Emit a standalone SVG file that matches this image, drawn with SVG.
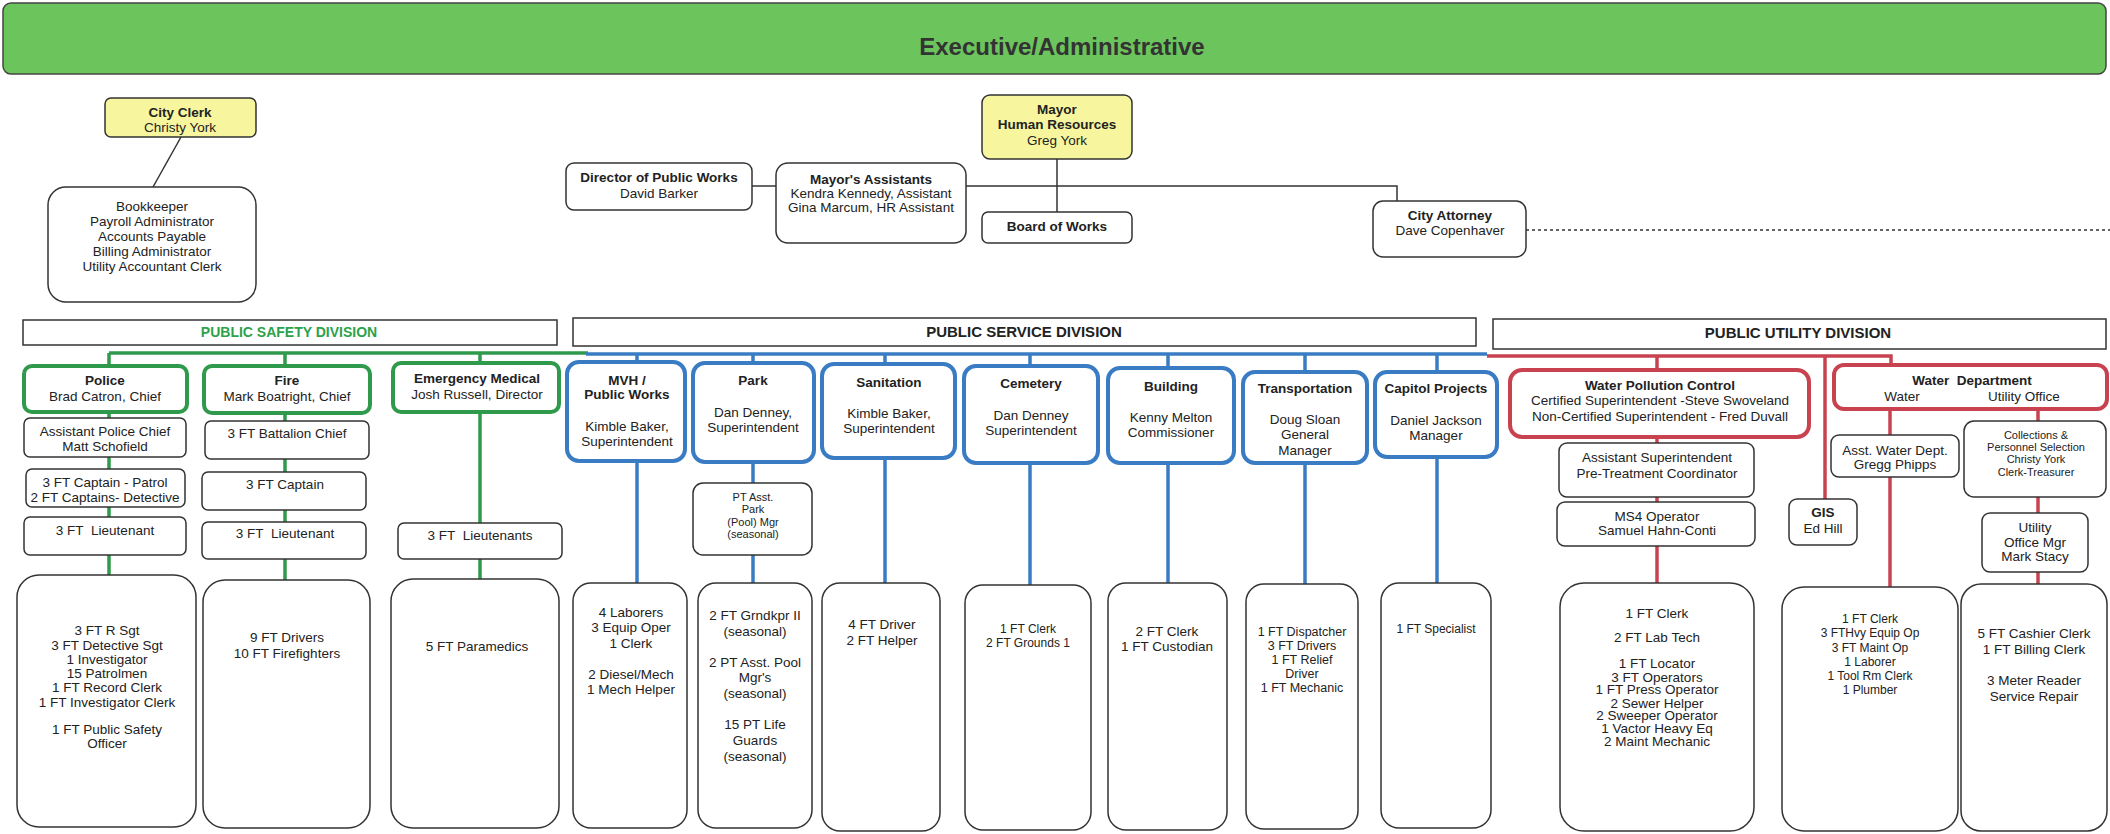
<svg xmlns="http://www.w3.org/2000/svg" width="2110" height="834" viewBox="0 0 2110 834">
<style>
text{font-family:"Liberation Sans",Arial,sans-serif;font-size:13.5px;fill:#222;text-anchor:middle}
.b{font-weight:bold}
.s11{font-size:11px}
.s12{font-size:12px}
.box{fill:#fff;stroke:#333;stroke-width:1.5}
.yel{fill:#f7f69e;stroke:#333;stroke-width:1.5}
.gb{fill:#fff;stroke:#2f9a4c;stroke-width:4}
.bb{fill:#fff;stroke:#3a7cc4;stroke-width:4}
.rb{fill:#fff;stroke:#c8434f;stroke-width:4}
.div{fill:#fff;stroke:#333;stroke-width:1.5}
.lk{stroke:#333;stroke-width:1.5;fill:none}
.lg{stroke:#2f9a4c;stroke-width:3.5;fill:none}
.lb{stroke:#3a7cc4;stroke-width:3.5;fill:none}
.lr{stroke:#c8434f;stroke-width:3.5;fill:none}
.dash{stroke:#333;stroke-width:1.5;stroke-dasharray:3 3;fill:none}
</style>

<g id="header">
<rect x="3" y="3" width="2103" height="71" rx="8" fill="#6cc55c" stroke="#444" stroke-width="1.5"/>
<text x="1062" y="55" class="b" style="font-size:24px;fill:#333">Executive/Administrative</text>
</g>

<g id="connectors">
<line class="lk" x1="181" y1="137" x2="153" y2="187"/>
<line class="lk" x1="752" y1="186" x2="776" y2="186"/>
<polyline class="lk" points="966,186 1397,186 1397,201"/>
<line class="lk" x1="1057" y1="159" x2="1057" y2="212"/>
<line class="dash" x1="1526" y1="230" x2="2110" y2="230"/>
<!-- public safety -->
<line class="lg" x1="109" y1="353" x2="588" y2="353"/>
<line class="lg" x1="109" y1="353" x2="109" y2="575"/>
<line class="lg" x1="285" y1="353" x2="285" y2="580"/>
<line class="lg" x1="480" y1="353" x2="480" y2="579"/>
<!-- public service -->
<line class="lb" x1="586" y1="354" x2="1487" y2="354"/>
<line class="lb" x1="637" y1="354" x2="637" y2="583"/>
<line class="lb" x1="753" y1="354" x2="753" y2="583"/>
<line class="lb" x1="885" y1="354" x2="885" y2="583"/>
<line class="lb" x1="1030" y1="354" x2="1030" y2="585"/>
<line class="lb" x1="1168" y1="354" x2="1168" y2="583"/>
<line class="lb" x1="1305" y1="354" x2="1305" y2="584"/>
<line class="lb" x1="1437" y1="354" x2="1437" y2="583"/>
<!-- public utility -->
<polyline class="lr" points="1487,356 1891,356 1891,366"/>
<line class="lr" x1="1657" y1="356" x2="1657" y2="583"/>
<line class="lr" x1="1825" y1="356" x2="1825" y2="499"/>
<line class="lr" x1="1890" y1="409" x2="1890" y2="587"/>
<line class="lr" x1="2038" y1="409" x2="2038" y2="584"/>
</g>

<g id="city-clerk">
<rect class="yel" x="105" y="98" width="151" height="39" rx="6"/>
<text x="180" y="117" class="b">City Clerk</text>
<text x="180" y="132">Christy York</text>
</g>
<g id="clerk-staff">
<rect class="box" x="48" y="187" width="208" height="115" rx="18"/>
<text x="152" y="211">Bookkeeper</text>
<text x="152" y="226">Payroll Administrator</text>
<text x="152" y="241">Accounts Payable</text>
<text x="152" y="256">Billing Administrator</text>
<text x="152" y="271">Utility Accountant Clerk</text>
</g>

<g id="mayor">
<rect class="yel" x="982" y="95" width="150" height="64" rx="8"/>
<text x="1057" y="114" class="b">Mayor</text>
<text x="1057" y="129" class="b">Human Resources</text>
<text x="1057" y="145">Greg York</text>
</g>
<g id="director-public-works">
<rect class="box" x="566" y="163" width="186" height="47" rx="8"/>
<text x="659" y="182" class="b">Director of Public Works</text>
<text x="659" y="198">David Barker</text>
</g>
<g id="mayors-assistants">
<rect class="box" x="776" y="163" width="190" height="80" rx="12"/>
<text x="871" y="184" class="b">Mayor's Assistants</text>
<text x="871" y="198">Kendra Kennedy, Assistant</text>
<text x="871" y="212">Gina Marcum, HR Assistant</text>
</g>
<g id="board-of-works">
<rect class="box" x="982" y="212" width="150" height="31" rx="6"/>
<text x="1057" y="231" class="b">Board of Works</text>
</g>
<g id="city-attorney">
<rect class="box" x="1373" y="201" width="153" height="56" rx="10"/>
<text x="1450" y="220" class="b">City Attorney</text>
<text x="1450" y="235">Dave Copenhaver</text>
</g>

<g id="public-safety-division">
<rect class="div" x="23" y="320" width="534" height="25"/>
<text x="289" y="337" class="b" style="font-size:14px;fill:#2ca24a">PUBLIC SAFETY DIVISION</text>
</g>
<g id="public-service-division">
<rect class="div" x="573" y="318" width="903" height="28"/>
<text x="1024" y="337" class="b" style="font-size:15px">PUBLIC SERVICE DIVISION</text>
</g>
<g id="public-utility-division">
<rect class="div" x="1493" y="319" width="613" height="30"/>
<text x="1798" y="338" class="b" style="font-size:15px">PUBLIC UTILITY DIVISION</text>
</g>

<g id="police">
<rect class="gb" x="24" y="366" width="163" height="46" rx="8"/>
<text x="105" y="385" class="b">Police</text>
<text x="105" y="401">Brad Catron, Chief</text>
</g>
<g id="asst-police-chief">
<rect class="box" x="24" y="418" width="162" height="39" rx="6"/>
<text x="105" y="436">Assistant Police Chief</text>
<text x="105" y="451">Matt Schofield</text>
</g>
<g id="police-captains">
<rect class="box" x="26" y="469" width="159" height="38" rx="6"/>
<text x="105" y="487">3 FT Captain - Patrol</text>
<text x="105" y="502">2 FT Captains- Detective</text>
</g>
<g id="police-lieutenant">
<rect class="box" x="24" y="517" width="162" height="38" rx="6"/>
<text x="105" y="535">3 FT&#160; Lieutenant</text>
</g>
<g id="police-staff">
<rect class="box" x="17" y="575" width="179" height="252" rx="22"/>
<text x="107" y="635">3 FT R Sgt</text>
<text x="107" y="650">3 FT Detective Sgt</text>
<text x="107" y="664">1 Investigator</text>
<text x="107" y="678">15 Patrolmen</text>
<text x="107" y="692">1 FT Record Clerk</text>
<text x="107" y="707">1 FT Investigator Clerk</text>
<text x="107" y="734">1 FT Public Safety</text>
<text x="107" y="748">Officer</text>
</g>

<g id="fire">
<rect class="gb" x="204" y="366" width="166" height="47" rx="8"/>
<text x="287" y="385" class="b">Fire</text>
<text x="287" y="401">Mark Boatright, Chief</text>
</g>
<g id="fire-battalion">
<rect class="box" x="205" y="421" width="164" height="38" rx="6"/>
<text x="287" y="438">3 FT Battalion Chief</text>
</g>
<g id="fire-captain">
<rect class="box" x="202" y="472" width="164" height="38" rx="6"/>
<text x="285" y="489">3 FT Captain</text>
</g>
<g id="fire-lieutenant">
<rect class="box" x="202" y="522" width="164" height="37" rx="6"/>
<text x="285" y="538">3 FT&#160; Lieutenant</text>
</g>
<g id="fire-staff">
<rect class="box" x="203" y="580" width="167" height="248" rx="22"/>
<text x="287" y="642">9 FT Drivers</text>
<text x="287" y="658">10 FT Firefighters</text>
</g>

<g id="emergency-medical">
<rect class="gb" x="393" y="363" width="166" height="49" rx="8"/>
<text x="477" y="383" class="b">Emergency Medical</text>
<text x="477" y="399">Josh Russell, Director</text>
</g>
<g id="ems-lieutenants">
<rect class="box" x="398" y="523" width="164" height="36" rx="6"/>
<text x="480" y="540">3 FT&#160; Lieutenants</text>
</g>
<g id="ems-staff">
<rect class="box" x="391" y="579" width="168" height="249" rx="22"/>
<text x="477" y="651">5 FT Paramedics</text>
</g>

<g id="mvh">
<rect class="bb" x="567" y="362" width="118" height="99" rx="12"/>
<text x="627" y="385" class="b">MVH /</text>
<text x="627" y="399" class="b">Public Works</text>
<text x="627" y="431">Kimble Baker,</text>
<text x="627" y="446">Superintendent</text>
</g>
<g id="mvh-staff">
<rect class="box" x="573" y="583" width="114" height="245" rx="18"/>
<text x="631" y="617">4 Laborers</text>
<text x="631" y="632">3 Equip Oper</text>
<text x="631" y="648">1 Clerk</text>
<text x="631" y="679">2 Diesel/Mech</text>
<text x="631" y="694">1 Mech Helper</text>
</g>

<g id="park">
<rect class="bb" x="693" y="363" width="121" height="99" rx="12"/>
<text x="753" y="385" class="b">Park</text>
<text x="753" y="417">Dan Denney,</text>
<text x="753" y="432">Superintendent</text>
</g>
<g id="park-pool-mgr">
<rect class="box" x="693" y="483" width="119" height="72" rx="10"/>
<text x="753" y="501" class="s11">PT Asst.</text>
<text x="753" y="513" class="s11">Park</text>
<text x="753" y="526" class="s11">(Pool) Mgr</text>
<text x="753" y="538" class="s11">(seasonal)</text>
</g>
<g id="park-staff">
<rect class="box" x="698" y="583" width="114" height="245" rx="18"/>
<text x="755" y="620">2 FT Grndkpr II</text>
<text x="755" y="636">(seasonal)</text>
<text x="755" y="667">2 PT Asst. Pool</text>
<text x="755" y="682">Mgr's</text>
<text x="755" y="698">(seasonal)</text>
<text x="755" y="729">15 PT Life</text>
<text x="755" y="745">Guards</text>
<text x="755" y="761">(seasonal)</text>
</g>

<g id="sanitation">
<rect class="bb" x="822" y="364" width="133" height="94" rx="12"/>
<text x="889" y="387" class="b">Sanitation</text>
<text x="889" y="418">Kimble Baker,</text>
<text x="889" y="433">Superintendent</text>
</g>
<g id="sanitation-staff">
<rect class="box" x="822" y="583" width="118" height="248" rx="18"/>
<text x="882" y="629">4 FT Driver</text>
<text x="882" y="645">2 FT Helper</text>
</g>

<g id="cemetery">
<rect class="bb" x="964" y="366" width="134" height="97" rx="12"/>
<text x="1031" y="388" class="b">Cemetery</text>
<text x="1031" y="420">Dan Denney</text>
<text x="1031" y="435">Superintendent</text>
</g>
<g id="cemetery-staff">
<rect class="box" x="965" y="585" width="126" height="245" rx="18"/>
<text x="1028" y="633" class="s12">1 FT Clerk</text>
<text x="1028" y="647" class="s12">2 FT Grounds 1</text>
</g>

<g id="building">
<rect class="bb" x="1108" y="368" width="126" height="95" rx="12"/>
<text x="1171" y="391" class="b">Building</text>
<text x="1171" y="422">Kenny Melton</text>
<text x="1171" y="437">Commissioner</text>
</g>
<g id="building-staff">
<rect class="box" x="1108" y="583" width="119" height="247" rx="18"/>
<text x="1167" y="636">2 FT Clerk</text>
<text x="1167" y="651">1 FT Custodian</text>
</g>

<g id="transportation">
<rect class="bb" x="1243" y="372" width="124" height="91" rx="12"/>
<text x="1305" y="393" class="b">Transportation</text>
<text x="1305" y="424">Doug Sloan</text>
<text x="1305" y="439">General</text>
<text x="1305" y="455">Manager</text>
</g>
<g id="transportation-staff">
<rect class="box" x="1246" y="584" width="112" height="245" rx="18"/>
<text x="1302" y="636" style="font-size:12.5px">1 FT Dispatcher</text>
<text x="1302" y="650" style="font-size:12.5px">3 FT Drivers</text>
<text x="1302" y="664" style="font-size:12.5px">1 FT Relief</text>
<text x="1302" y="678" style="font-size:12.5px">Driver</text>
<text x="1302" y="692" style="font-size:12.5px">1 FT Mechanic</text>
</g>

<g id="capitol-projects">
<rect class="bb" x="1375" y="372" width="122" height="85" rx="12"/>
<text x="1436" y="393" class="b">Capitol Projects</text>
<text x="1436" y="425">Daniel Jackson</text>
<text x="1436" y="440">Manager</text>
</g>
<g id="capitol-staff">
<rect class="box" x="1381" y="583" width="110" height="245" rx="18"/>
<text x="1436" y="633" class="s12">1 FT Specialist</text>
</g>

<g id="water-pollution-control">
<rect class="rb" x="1510" y="370" width="299" height="67" rx="12"/>
<text x="1660" y="390" class="b">Water Pollution Control</text>
<text x="1660" y="405">Certified Superintendent -Steve Swoveland</text>
<text x="1660" y="421">Non-Certified Superintendent - Fred Duvall</text>
</g>
<g id="asst-superintendent">
<rect class="box" x="1559" y="443" width="195" height="54" rx="8"/>
<text x="1657" y="462">Assistant Superintendent</text>
<text x="1657" y="478">Pre-Treatment Coordinator</text>
</g>
<g id="ms4-operator">
<rect class="box" x="1557" y="502" width="198" height="44" rx="8"/>
<text x="1657" y="521">MS4 Operator</text>
<text x="1657" y="535">Samuel Hahn-Conti</text>
</g>
<g id="wpc-staff">
<rect class="box" x="1560" y="583" width="194" height="248" rx="24"/>
<text x="1657" y="618">1 FT Clerk</text>
<text x="1657" y="642">2 FT Lab Tech</text>
<text x="1657" y="668">1 FT Locator</text>
<text x="1657" y="682">3 FT Operators</text>
<text x="1657" y="694">1 FT Press Operator</text>
<text x="1657" y="708">2 Sewer Helper</text>
<text x="1657" y="720">2 Sweeper Operator</text>
<text x="1657" y="733">1 Vactor Heavy Eq</text>
<text x="1657" y="746">2 Maint Mechanic</text>
</g>

<g id="gis">
<rect class="box" x="1789" y="499" width="68" height="46" rx="8"/>
<text x="1823" y="517" class="b">GIS</text>
<text x="1823" y="533">Ed Hill</text>
</g>

<g id="water-department">
<rect class="rb" x="1834" y="365" width="273" height="44" rx="10"/>
<text x="1972" y="385" class="b">Water&#160; Department</text>
<text x="1902" y="401">Water</text>
<text x="2024" y="401">Utility Office</text>
</g>
<g id="asst-water-dept">
<rect class="box" x="1831" y="435" width="128" height="42" rx="8"/>
<text x="1895" y="455">Asst. Water Dept.</text>
<text x="1895" y="469">Gregg Phipps</text>
</g>
<g id="collections">
<rect class="box" x="1964" y="421" width="142" height="76" rx="10"/>
<text x="2036" y="439" class="s11">Collections &amp;</text>
<text x="2036" y="451" class="s11">Personnel Selection</text>
<text x="2036" y="463" class="s11">Christy York</text>
<text x="2036" y="476" class="s11">Clerk-Treasurer</text>
</g>
<g id="utility-office-mgr">
<rect class="box" x="1982" y="513" width="106" height="59" rx="8"/>
<text x="2035" y="532">Utility</text>
<text x="2035" y="547">Office Mgr</text>
<text x="2035" y="561">Mark Stacy</text>
</g>
<g id="water-staff">
<rect class="box" x="1782" y="587" width="176" height="244" rx="22"/>
<text x="1870" y="623" class="s12">1 FT Clerk</text>
<text x="1870" y="637" class="s12">3 FTHvy Equip Op</text>
<text x="1870" y="652" class="s12">3 FT Maint Op</text>
<text x="1870" y="666" class="s12">1 Laborer</text>
<text x="1870" y="680" class="s12">1 Tool Rm Clerk</text>
<text x="1870" y="694" class="s12">1 Plumber</text>
</g>
<g id="utility-staff">
<rect class="box" x="1961" y="584" width="146" height="247" rx="20"/>
<text x="2034" y="638">5 FT Cashier Clerk</text>
<text x="2034" y="654">1 FT Billing Clerk</text>
<text x="2034" y="685">3 Meter Reader</text>
<text x="2034" y="701">Service Repair</text>
</g>
</svg>
